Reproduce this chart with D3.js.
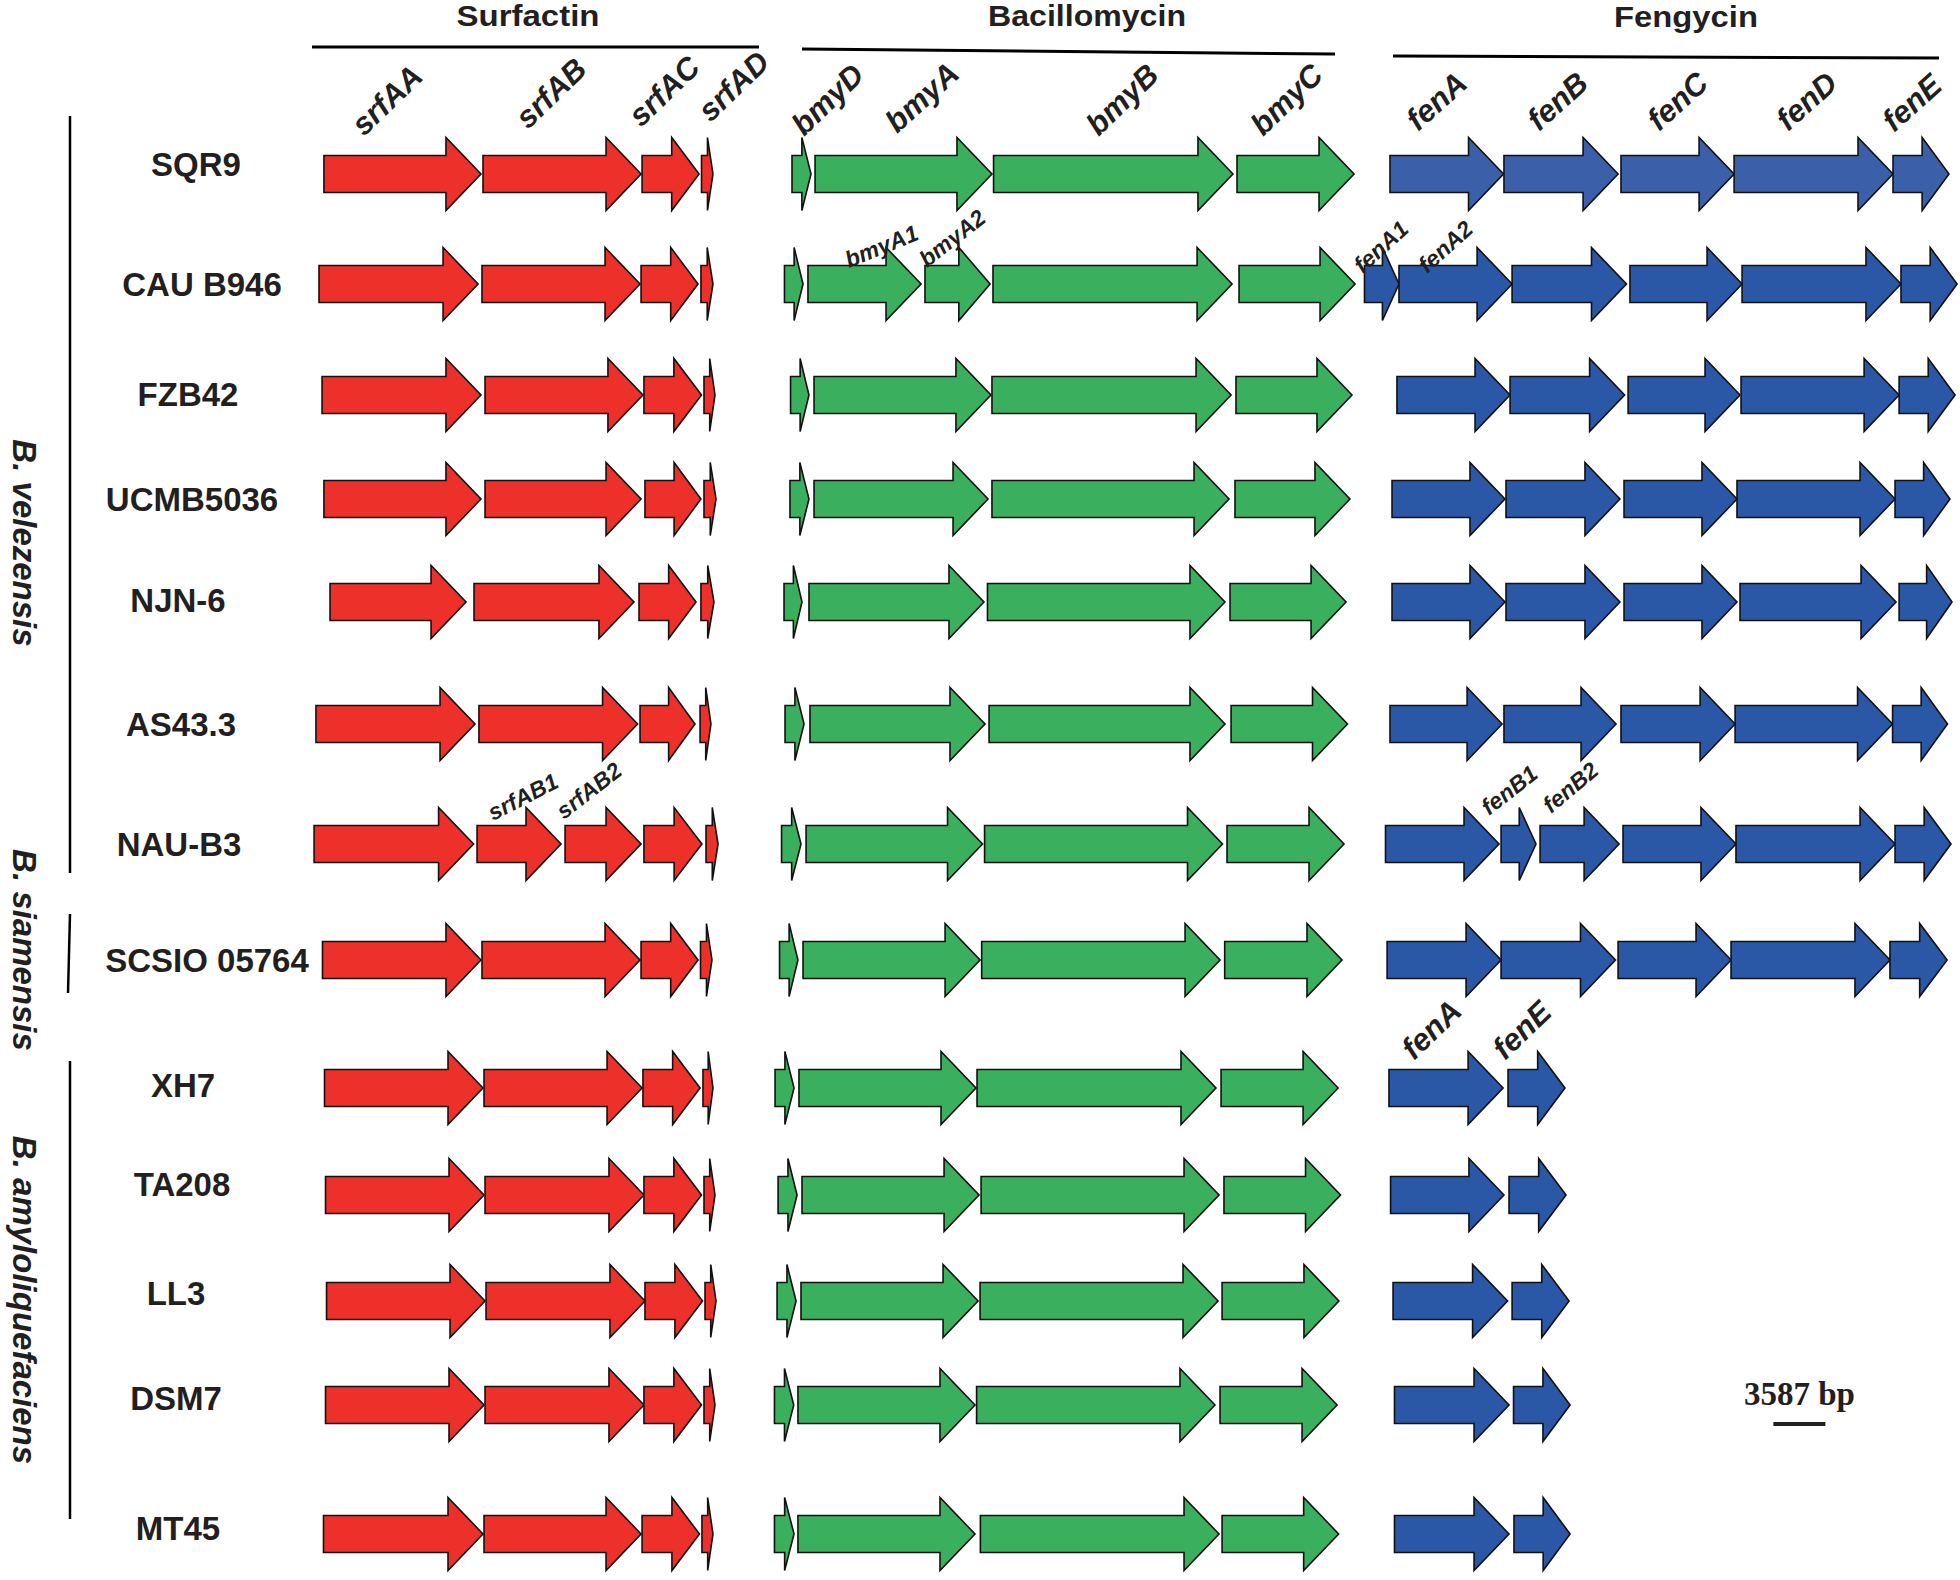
<!DOCTYPE html>
<html><head><meta charset="utf-8">
<script src="https://cdn.jsdelivr.net/npm/d3@7"></script>
<style>body{margin:0;background:#fff}svg{display:block}</style>
</head><body><svg id="chart" width="1960" height="1580"></svg>
<script>
// ---------------- DATA (gene coordinates in kb) ----------------
const strains = ["SQR9","CAU B946","FZB42","UCMB5036","NJN-6","AS43.3","NAU-B3",
  "SCSIO 05764","XH7","TA208","LL3","DSM7","MT45"];

const species = [
  {name:"B. velezensis", first:0, last:6},
  {name:"B. siamensis", first:7, last:7},
  {name:"B. amyloliquefaciens", first:8, last:12}
];

const clusterTitles = ["Surfactin","Bacillomycin","Fengycin"];

const surfactin = [
  [["srfAA",22.34,33.17],["srfAB",33.31,44.21],["srfAC",44.28,48.21],["srfAD",48.38,49.17]],
  [["srfAA",22.00,32.97],["srfAB",33.24,44.14],["srfAC",44.21,48.14],["srfAD",48.34,49.17]],
  [["srfAA",22.21,33.17],["srfAB",33.45,44.34],["srfAC",44.41,48.38],["srfAD",48.55,49.31]],
  [["srfAA",22.34,33.17],["srfAB",33.45,44.21],["srfAC",44.48,48.34],["srfAD",48.55,49.38]],
  [["srfAA",22.76,32.14],["srfAB",32.69,43.72],["srfAC",44.07,48.00],["srfAD",48.34,49.24]],
  [["srfAA",21.79,32.76],["srfAB",33.03,43.97],["srfAC",44.14,47.93],["srfAD",48.28,49.03]],
  [["srfAA",21.66,32.66],["srfAB1",32.90,38.69],["srfAB2",38.97,44.21],["srfAC",44.41,48.41],["srfAD",48.69,49.52]],
  [["srfAA",22.24,33.17],["srfAB",33.24,44.14],["srfAC",44.21,48.14],["srfAD",48.31,49.10]],
  [["srfAA",22.38,33.31],["srfAB",33.38,44.28],["srfAC",44.34,48.28],["srfAD",48.48,49.17]],
  [["srfAA",22.45,33.38],["srfAB",33.45,44.41],["srfAC",44.41,48.38],["srfAD",48.55,49.31]],
  [["srfAA",22.52,33.45],["srfAB",33.52,44.48],["srfAC",44.48,48.45],["srfAD",48.62,49.38]],
  [["srfAA",22.45,33.38],["srfAB",33.45,44.41],["srfAC",44.41,48.38],["srfAD",48.55,49.31]],
  [["srfAA",22.31,33.31],["srfAB",33.38,44.21],["srfAC",44.28,48.24],["srfAD",48.41,49.17]]
];

const bacillomycin = [
  [["bmyD",54.62,55.93],["bmyA",56.21,68.41],["bmyB",68.52,85.03],["bmyC",85.31,93.38]],
  [["bmyD",54.10,55.38],["bmyA1",55.72,63.52],["bmyA2",63.79,68.28],["bmyB",68.48,84.97],["bmyC",85.45,93.45]],
  [["bmyD",54.52,55.79],["bmyA",56.14,68.34],["bmyB",68.41,84.90],["bmyC",85.24,93.24]],
  [["bmyD",54.48,55.79],["bmyA",56.14,68.14],["bmyB",68.41,84.76],["bmyC",85.17,93.10]],
  [["bmyD",54.07,55.31],["bmyA",55.79,67.86],["bmyB",68.10,84.48],["bmyC",84.83,92.83]],
  [["bmyD",54.14,55.45],["bmyA",55.86,67.93],["bmyB",68.21,84.48],["bmyC",84.90,92.93]],
  [["bmyD",53.90,55.24],["bmyA",55.59,67.76],["bmyB",67.90,84.31],["bmyC",84.62,92.69]],
  [["bmyD",53.76,55.03],["bmyA",55.38,67.59],["bmyB",67.70,84.14],["bmyC",84.46,92.55]],
  [["bmyD",53.45,54.76],["bmyA",55.10,67.31],["bmyB",67.38,83.86],["bmyC",84.21,92.28]],
  [["bmyD",53.66,54.97],["bmyA",55.31,67.52],["bmyB",67.66,84.07],["bmyC",84.41,92.45]],
  [["bmyD",53.59,54.90],["bmyA",55.24,67.45],["bmyB",67.59,84.00],["bmyC",84.28,92.34]],
  [["bmyD",53.41,54.74],["bmyA",55.03,67.24],["bmyB",67.35,83.79],["bmyC",84.14,92.21]],
  [["bmyD",53.41,54.76],["bmyA",55.03,67.24],["bmyB",67.61,84.07],["bmyC",84.28,92.32]]
];

const fengycin = [
  [["fenA",95.86,103.69],["fenB",103.72,111.59],["fenC",111.79,119.59],["fenD",119.59,130.55],["fenE",130.55,134.41]],
  [["fenA1",94.10,96.48],["fenA2",96.48,104.28],["fenB",104.28,112.17],["fenC",112.41,120.14],["fenD",120.14,131.10],["fenE",131.10,134.97]],
  [["fenA",96.34,104.14],["fenB",104.14,112.04],["fenC",112.28,120.00],["fenD",120.07,130.97],["fenE",130.97,134.83]],
  [["fenA",96.00,103.79],["fenB",103.86,111.72],["fenC",112.00,119.79],["fenD",119.79,130.69],["fenE",130.69,134.48]],
  [["fenA",96.00,103.79],["fenB",103.86,111.72],["fenC",112.00,119.79],["fenD",120.00,130.76],["fenE",130.97,134.62]],
  [["fenA",95.86,103.59],["fenB",103.72,111.45],["fenC",111.79,119.66],["fenD",119.66,130.52],["fenE",130.52,134.31]],
  [["fenA",95.55,103.38],["fenB1",103.52,105.93],["fenB2",106.21,111.66],["fenC",111.93,119.72],["fenD",119.72,130.69],["fenE",130.69,134.55]],
  [["fenA",95.66,103.52],["fenB",103.52,111.41],["fenC",111.59,119.38],["fenD",119.38,130.34],["fenE",130.34,134.28]],
  [["fenA",95.79,103.66],["fenE",104.00,107.93]],
  [["fenA",95.90,103.72],["fenE",104.07,108.00]],
  [["fenA",96.07,103.97],["fenE",104.28,108.21]],
  [["fenA",96.17,104.07],["fenE",104.38,108.28]],
  [["fenA",96.17,104.07],["fenE",104.41,108.28]]
];

// which genes carry a name label: [strain index, gene name]
const labelledGenes = [
  [0,"srfAA"],[0,"srfAB"],[0,"srfAC"],[0,"srfAD"],
  [0,"bmyD"],[0,"bmyA"],[0,"bmyB"],[0,"bmyC"],
  [0,"fenA"],[0,"fenB"],[0,"fenC"],[0,"fenD"],[0,"fenE"],
  [1,"bmyA1"],[1,"bmyA2"],[1,"fenA1"],[1,"fenA2"],
  [6,"srfAB1"],[6,"srfAB2"],[6,"fenB1"],[6,"fenB2"],
  [8,"fenA"],[8,"fenE"]
];

const scaleBarBp = 3587;

// ---------------- LAYOUT ----------------
const W = 1960, H = 1580;
const rowY = [174,284,395,499,602,724,844,960,1088,1195,1301,1405,1534];
const strainLabelX = [196,202,188,192,178,181,179,207,183,182,176,176,178];
const strainLabelCY = [164,284,394,499,600,724,844,960,1085,1184,1293,1398,1528];
const bodyHalf = 18.5, headHalf = 36.5, headMax = 35, headFrac = 0.48;
const colors = {srf:"#ee302b", bmy:"#3aaf5e", fen:"#2a57a6", fenSQR9:"#3b5fa9", text:"#231f20"};
// label placement relative to gene start / row centre: [dx, dy, angle, fontSize]
const labelLayout = {
  "0|srfAA":[40,-37,-44,31], "0|srfAB":[45,-44,-44,31], "0|srfAC":[-1,-46,-44,31], "0|srfAD":[9,-51,-44,31],
  "0|bmyD":[12,-37,-44,31], "0|bmyA":[82,-40,-42,31], "0|bmyB":[105,-37,-44,31], "0|bmyC":[26,-37,-44,31],
  "0|fenA":[28,-42,-42,31], "0|fenB":[35,-42,-42,31], "0|fenC":[38,-42,-42,31], "0|fenD":[54,-42,-42,31], "0|fenE":[1,-41,-42,31],
  "1|bmyA1":[41,-16,-22,23], "1|bmyA2":[2,-16,-38,23], "1|fenA1":[-2,-10,-42,23], "1|fenA2":[28,-10,-42,23],
  "6|srfAB1":[16,-23,-27,23], "6|srfAB2":[-1,-24,-38,23], "6|fenB1":[-12,-28,-38,23], "6|fenB2":[11,-30,-40,23],
  "8|fenA":[25,-27,-44,31], "8|fenE":[-3,-27,-44,31]
};
const titleLayout = [
  {cx:528, y:26, len:143, line:[[312,47],[759,47]]},
  {cx:1087, y:26, len:198, line:[[802,49],[1335,54]]},
  {cx:1686, y:27, len:144, line:[[1393,56],[1939,58]]}
];
const speciesLayout = [
  {x:13, cy:543, line:[[70,116],[70,873]]},
  {x:13, cy:950, line:[[70,914],[68,993]]},
  {x:13, cy:1300, line:[[70,1061],[70,1519]]}
];

// ---------------- DRAW ----------------
const svg = d3.select("#chart");
svg.append("rect").attr("width",W).attr("height",H).attr("fill","#fff");

const x = d3.scaleLinear().domain([0, 135.17]).range([0, W]);   // kb -> px
const fontSans = "'Liberation Sans', Arial, Helvetica, sans-serif";

function arrowPath(s, e, y) {
  const x0 = x(s), x1 = x(e), L = x1 - x0;
  const head = Math.min(headMax, L * headFrac), hb = x1 - head;
  const p = d3.path();
  p.moveTo(x0, y - bodyHalf); p.lineTo(hb, y - bodyHalf); p.lineTo(hb, y - headHalf);
  p.lineTo(x1, y); p.lineTo(hb, y + headHalf); p.lineTo(hb, y + bodyHalf);
  p.lineTo(x0, y + bodyHalf); p.closePath();
  return p.toString();
}

const clusters = [
  {genes: surfactin, color: () => colors.srf},
  {genes: bacillomycin, color: () => colors.bmy},
  {genes: fengycin, color: (i) => i === 0 ? colors.fenSQR9 : colors.fen}
];

const gArrows = svg.append("g");
clusters.forEach(cl => {
  cl.genes.forEach((row, i) => {
    gArrows.selectAll(null).data(row).enter().append("path")
      .attr("d", d => arrowPath(d[1], d[2], rowY[i]))
      .attr("fill", cl.color(i))
      .attr("stroke", "#111").attr("stroke-width", 1.6).attr("stroke-linejoin","miter");
  });
});

// gene name labels
const allGenes = [surfactin, bacillomycin, fengycin];
labelledGenes.forEach(([si, name]) => {
  let g = null;
  allGenes.forEach(cl => { const f = cl[si].find(d => d[0] === name); if (f) g = f; });
  if (!g) return;
  const [dx, dy, ang, fs] = labelLayout[si + "|" + name];
  const tx = x(g[1]) + dx, ty = rowY[si] + dy;
  svg.append("text").attr("transform", `translate(${tx},${ty}) rotate(${ang})`)
    .attr("font-family", fontSans).attr("font-weight","bold").attr("font-style","italic")
    .attr("font-size", fs).attr("fill", colors.text).text(name);
});

// strain names
svg.selectAll(null).data(strains).enter().append("text")
  .attr("x", (d,i) => strainLabelX[i]).attr("y", (d,i) => strainLabelCY[i] + 12)
  .attr("text-anchor","middle").attr("font-family", fontSans).attr("font-weight","bold")
  .attr("font-size", 33).attr("fill", colors.text).text(d => d);

// cluster titles + lines
clusterTitles.forEach((t, i) => {
  const L = titleLayout[i];
  svg.append("text").attr("x", L.cx).attr("y", L.y).attr("text-anchor","middle")
    .attr("font-family", fontSans).attr("font-weight","bold").attr("font-size", 29)
    .attr("textLength", L.len).attr("lengthAdjust","spacingAndGlyphs")
    .attr("fill", colors.text).text(t);
  svg.append("line").attr("x1", L.line[0][0]).attr("y1", L.line[0][1])
    .attr("x2", L.line[1][0]).attr("y2", L.line[1][1])
    .attr("stroke","#000").attr("stroke-width",3);
});

// species labels + brackets
species.forEach((s, i) => {
  const L = speciesLayout[i];
  svg.append("text").attr("transform", `translate(${L.x},${L.cy}) rotate(90)`)
    .attr("text-anchor","middle").attr("font-family", fontSans).attr("font-weight","bold")
    .attr("font-style","italic").attr("font-size", 33).attr("fill", colors.text).text(s.name);
  svg.append("line").attr("x1", L.line[0][0]).attr("y1", L.line[0][1])
    .attr("x2", L.line[1][0]).attr("y2", L.line[1][1])
    .attr("stroke","#000").attr("stroke-width",2.5);
});

// scale bar
const sbStart = 122.3;
svg.append("line").attr("x1", x(sbStart)).attr("x2", x(sbStart + scaleBarBp/1000))
  .attr("y1", 1424).attr("y2", 1424).attr("stroke", colors.text).attr("stroke-width", 4);
svg.append("text").attr("x", (x(sbStart) + x(sbStart + scaleBarBp/1000))/2).attr("y", 1405)
  .attr("text-anchor","middle").attr("font-family","'Liberation Serif','Times New Roman',serif")
  .attr("font-weight","bold").attr("font-size", 33).attr("fill", colors.text)
  .text(scaleBarBp + " bp");
</script>
</body></html>
